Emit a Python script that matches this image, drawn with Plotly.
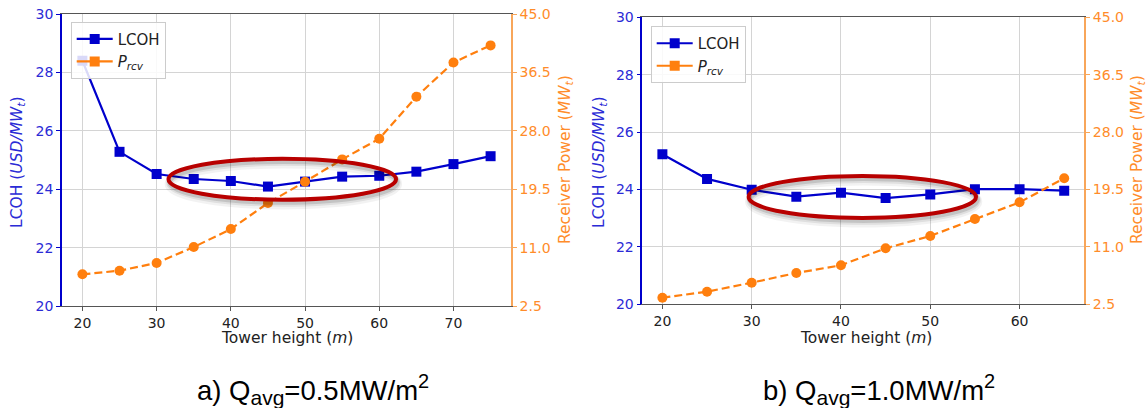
import plotly.graph_objects as go

# ---------------- data ----------------
heights_a = [20, 25, 30, 35, 40, 45, 50, 55, 60, 65, 70, 75]
lcoh_a = [28.40, 25.28, 24.52, 24.35, 24.28, 24.09, 24.26, 24.43, 24.46, 24.60, 24.86, 25.13]
prcv_a = [7.11, 7.64, 8.76, 11.08, 13.70, 17.49, 20.59, 23.84, 26.85, 32.96, 37.95, 40.43]

heights_b = [20, 25, 30, 35, 40, 45, 50, 55, 60, 65]
lcoh_b = [25.23, 24.37, 23.99, 23.75, 23.89, 23.70, 23.83, 24.01, 24.01, 23.96]
prcv_b = [3.48, 4.37, 5.70, 7.14, 8.28, 10.79, 12.62, 15.13, 17.60, 21.16]

lcoh_ticks = [20, 22, 24, 26, 28, 30]
prcv_ticks = [2.5, 11.0, 19.5, 28.0, 36.5, 45.0]
x_ticks_a = [20, 30, 40, 50, 60, 70]
x_ticks_b = [20, 30, 40, 50, 60]

captions = [
    "a) Q<sub><span style='font-size:21px'>avg</span></sub>=0.5MW/m<sup><span style='font-size:20px'>2</span></sup>",
    "b) Q<sub><span style='font-size:21px'>avg</span></sub>=1.0MW/m<sup><span style='font-size:20px'>2</span></sup>",
]

# ellipse highlights (data coords: x0, x1, y0, y1)
ellipse_a = (31.6, 62.26, 23.64, 25.04)
ellipse_b = (29.66, 55.12, 23.01, 24.47)

# ---------------- style ----------------
BLUE = "#0000cc"
BLUE_TXT = "#2b2bd6"
ORANGE = "#ff7f0e"
ORANGE_TXT = "#ff8c2a"
FONT = "DejaVu Sans"
W, H = 1148, 408

fig = go.Figure()

def add_panel(xs, lcoh, prcv, xa, ya_l, ya_r, legend_name, grp):
    fig.add_trace(go.Scatter(
        x=xs, y=lcoh, mode="lines+markers", xaxis=xa, yaxis=ya_l,
        line=dict(color=BLUE, width=2.2),
        marker=dict(symbol="square", size=10, color=BLUE),
        showlegend=False, hoverinfo="skip"))
    fig.add_trace(go.Scatter(
        x=xs, y=prcv, mode="lines+markers", xaxis=xa, yaxis=ya_r,
        line=dict(color=ORANGE, width=2.2, dash="8px,4px"),
        marker=dict(symbol="circle", size=10, color=ORANGE),
        showlegend=False, hoverinfo="skip"))
    fig.add_trace(go.Scatter(
        x=[None], y=[None], mode="lines+markers", xaxis=xa, yaxis=ya_l,
        line=dict(color=BLUE, width=2.2),
        marker=dict(symbol="square", size=10, color=BLUE),
        name="LCOH", legend=legend_name, legendgroup=grp + "1"))
    fig.add_trace(go.Scatter(
        x=[None], y=[None], mode="lines+markers", xaxis=xa, yaxis=ya_l,
        line=dict(color=ORANGE, width=2.2),
        marker=dict(symbol="square", size=10, color=ORANGE),
        name="<i>P</i><sub><i>rcv</i></sub>", legend=legend_name, legendgroup=grp + "2"))

add_panel(heights_a, lcoh_a, prcv_a, "x", "y", "y2", "legend", "a")
add_panel(heights_b, lcoh_b, prcv_b, "x2", "y3", "y4", "legend2", "b")

def xaxis_cfg(dom, rng, ticks):
    return dict(
        domain=dom, range=rng, tickvals=ticks, showgrid=True, gridcolor="#d4d4d4", gridwidth=1,
        showline=True, linecolor="#555555", linewidth=1.2, mirror=True,
        ticks="outside", ticklen=4, tickcolor="#555555",
        tickfont=dict(family=FONT, size=14, color="#222222"),
        automargin=False, zeroline=False)

def yleft_cfg(dom, anchor):
    return dict(
        domain=dom, range=[20, 30], tickvals=lcoh_ticks, anchor=anchor,
        showgrid=True, gridcolor="#d4d4d4", gridwidth=1,
        showline=True, linecolor=BLUE, linewidth=1.5,
        ticks="outside", ticklen=4, tickcolor=BLUE,
        tickfont=dict(family=FONT, size=14, color=BLUE_TXT),
        automargin=False, zeroline=False)

def yright_cfg(overlay, anchor):
    return dict(
        overlaying=overlay, side="right", anchor=anchor, range=[2.5, 45.0], tickvals=prcv_ticks,
        tickformat=".1f", showgrid=False,
        showline=True, linecolor="#f8a65a", linewidth=1.5,
        ticks="outside", ticklen=4, tickcolor="#f8a65a",
        tickfont=dict(family=FONT, size=14, color=ORANGE_TXT),
        automargin=False, zeroline=False)

dom_xa = [62 / W, 511 / W]
dom_ya = [1 - 306 / H, 1 - 14 / H]
dom_xb = [642.3 / W, 1084.3 / W]
dom_yb = [1 - 304.3 / H, 1 - 17.3 / H]

legend_common = dict(
    xanchor="left", yanchor="top", bgcolor="rgba(255,255,255,0.85)",
    bordercolor="#cccccc", borderwidth=1,
    font=dict(family=FONT, size=15, color="#222222"), tracegroupgap=0, itemwidth=36)

shapes = []
def add_ellipse(e, xr, yr, dy):
    x0, x1, y0, y1 = e
    for w, a, off in [(10, 0.05, 1.6), (7, 0.08, 1.2), (5, 0.12, 0.9)]:
        shapes.append(dict(type="circle", xref=xr, yref=yr, x0=x0 + 0.15, x1=x1 + 0.15,
                           y0=y0 - dy * off, y1=y1 - dy * off, layer="above",
                           line=dict(color=f"rgba(0,0,0,{a})", width=w)))
    shapes.append(dict(type="circle", xref=xr, yref=yr, x0=x0, x1=x1, y0=y0, y1=y1,
                       layer="above", line=dict(color="#b80000", width=4)))

add_ellipse(ellipse_a, "x", "y", 0.1)
add_ellipse(ellipse_b, "x2", "y3", 0.1)

def txt(text, x, y, size, color, angle=0, family=FONT):
    return dict(text=text, xref="paper", yref="paper", x=x / W, y=1 - y / H,
                xanchor="center", yanchor="middle", showarrow=False, textangle=angle,
                font=dict(family=family, size=size, color=color))

annotations = [
    txt("Tower height (<i>m</i>)", 287, 338, 15.5, "#222222"),
    txt("Tower height (<i>m</i>)", 866, 338, 15.5, "#222222"),
    txt("LCOH (<i>USD/MW<sub>t</sub></i>)", 18, 162, 15.5, BLUE_TXT, -90),
    txt("LCOH (<i>USD/MW<sub>t</sub></i>)", 600, 162, 15.5, BLUE_TXT, -90),
    txt("Receiver Power (<i>MW<sub>t</sub></i>)", 566, 160, 15.5, ORANGE_TXT, -90),
    txt("Receiver Power (<i>MW<sub>t</sub></i>)", 1138, 160, 15.5, ORANGE_TXT, -90),
    txt(captions[0], 313, 389, 27.5, "black", family="Liberation Sans"),
    txt(captions[1], 878.5, 389, 27.5, "black", family="Liberation Sans"),
]

fig.update_layout(
    width=W, height=H, margin=dict(l=0, r=0, t=0, b=0, autoexpand=False),
    paper_bgcolor="white", plot_bgcolor="white",
    xaxis=xaxis_cfg(dom_xa, [17.25, 77.75], x_ticks_a) | dict(anchor="y"),
    yaxis=yleft_cfg(dom_ya, "x"),
    yaxis2=yright_cfg("y", "x"),
    xaxis2=xaxis_cfg(dom_xb, [17.75, 67.25], x_ticks_b) | dict(anchor="y3"),
    yaxis3=yleft_cfg(dom_yb, "x2"),
    yaxis4=yright_cfg("y3", "x2"),
    legend=legend_common | dict(x=70.7 / W, y=1 - 21.7 / H),
    legend2=legend_common | dict(x=650.7 / W, y=1 - 26 / H),
    shapes=shapes,
    annotations=annotations,
)

fig.write_html("out.html", config={"displayModeBar": False},
               post_script="document.body.style.margin='0';document.body.style.overflow='hidden';")
